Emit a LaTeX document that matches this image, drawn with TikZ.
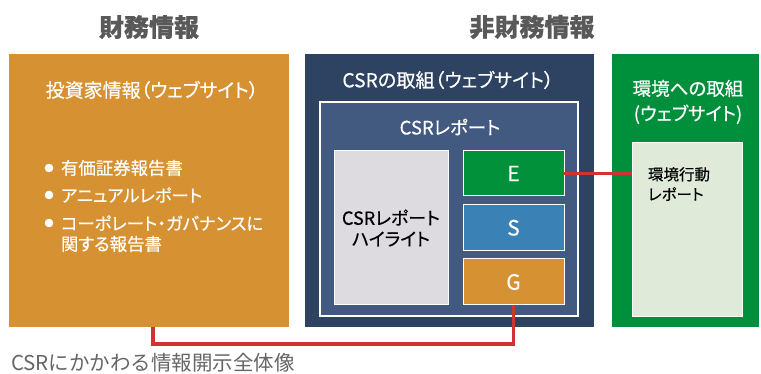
\documentclass[tikz,border=0pt]{standalone}
\usepackage{fontspec}
\setmainfont{Noto Sans CJK JP}[FakeBold=0.5, RawFeature=+palt]
\newfontfamily\capfont{Noto Sans CJK JP}
\definecolor{finC}{HTML}{D69133}
\definecolor{navyC}{HTML}{2E4361}
\definecolor{innerC}{HTML}{435A80}
\definecolor{hlC}{HTML}{DDDBE0}
\definecolor{eC}{HTML}{00913A}
\definecolor{sC}{HTML}{3A82B5}
\definecolor{grnC}{HTML}{00903C}
\definecolor{envC}{HTML}{E0EAD9}
\definecolor{redC}{HTML}{D13232}
\definecolor{titleC}{HTML}{595959}
\definecolor{capC}{HTML}{666666}
\newcommand{\fsz}[2]{\fontsize{#1}{#2}\selectfont}
\begin{document}
\begin{tikzpicture}[x=1pt,y=-1pt,
  every node/.style={inner sep=0pt, outer sep=0pt},
  wbox/.style={draw=white, line width=1pt},
  link/.style={draw=redC, line width=3.6pt},
  wtext/.style={text=white}]
\useasboundingbox (0,0) rectangle (761,374);
\fill[white] (0,0) rectangle (761,374);

% titles
\node[text=titleC, font=\fsz{25}{26}\bfseries] (t1) at (149,27) {財務情報};
\node[text=titleC, font=\fsz{25}{26}\bfseries] (t2) at (532,27) {非財務情報};

% panels
\node[fill=finC, minimum width=280, minimum height=273] (fin) at (149,190.5) {};
\node[fill=navyC, minimum width=289, minimum height=273] (csr) at (449.5,190.5) {};
\node[fill=innerC, draw=white, line width=1.5pt, minimum width=258, minimum height=214] (rep) at (449,209) {};
\node[fill=hlC, wbox, minimum width=114, minimum height=154] (hl) at (391,228) {};
\node[fill=eC, wbox, minimum width=101, minimum height=45] (E) at (513.5,173.5) {};
\node[fill=sC, wbox, minimum width=101, minimum height=45.5] (S) at (513.5,227.75) {};
\node[fill=finC, wbox, minimum width=101, minimum height=46] (G) at (513.5,282) {};
\node[fill=grnC, minimum width=147, minimum height=273] (env) at (685.5,190.5) {};
\node[fill=envC, wbox, minimum width=110, minimum height=174] (envr) at (687,230) {};

% texts in financial panel
\node[wtext, font=\fsz{19}{20}] (fint) at (152,90) {投資家情報（ウェブサイト）};
\fill[white] (49,168) circle (4.3);
\fill[white] (49,195) circle (4.3);
\fill[white] (49,223) circle (4.3);
\node[wtext, anchor=west, font=\fsz{17.4}{20}] (b1) at (61,168) {有価証券報告書};
\node[wtext, anchor=west, font=\fsz{17.4}{20}] (b2) at (61,195) {アニュアルレポート};
\node[wtext, anchor=west, font=\fsz{17.4}{20}] (b3) at (61,223) {コーポレート・ガバナンスに};
\node[wtext, anchor=west, font=\fsz{17.4}{20}] (b4) at (61,244) {関する報告書};

% texts in CSR panel
\node[wtext, font=\fsz{19.2}{20}] (csrt) at (448,80) {CSRの取組（ウェブサイト）};
\node[wtext, font=\fsz{18.5}{20}] (rept) at (450,127) {CSRレポート};
\node[align=center, font=\fsz{18}{21}] (hlt) at (391,228) {CSRレポート\\ハイライト};
\node[wtext, font=\fsz{21}{22}] at (E) {E};
\node[wtext, font=\fsz{21}{22}] at (S) {S};
\node[wtext, font=\fsz{21}{22}] at (G) {G};

% texts in environment panel
\node[wtext, align=center, font=\fsz{18.5}{25}] (envt) at (688,102) {環境への取組\\(ウェブサイト)};
\node[align=left, font=\fsz{15.5}{20}] (envrt) at (679,184) {環境行動\\レポート};

% links
\draw[link] (E.east) -- (E.east -| envr.west);
\coordinate (lk) at (153,344);
\draw[link, line join=miter] (G.south) |- (lk) -- (lk |- fin.south);

% caption
\node[text=capC, anchor=west, font=\capfont\fsz{20.5}{22}] (cap) at (11,362.5) {CSRにかかわる情報開示全体像};
\end{tikzpicture}
\end{document}
